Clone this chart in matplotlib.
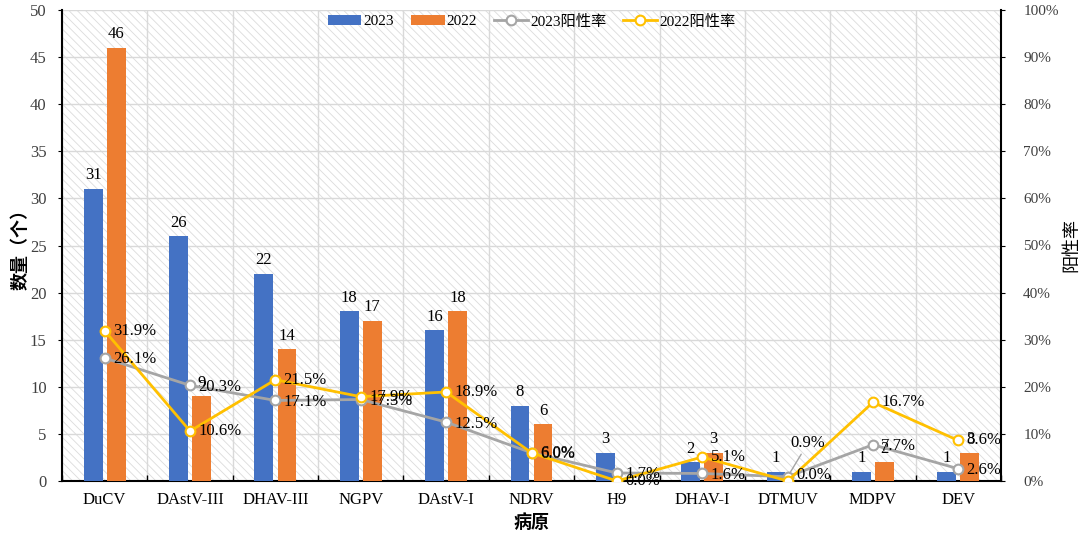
import matplotlib
matplotlib.use("Agg")
import matplotlib.pyplot as plt
import numpy as np
from matplotlib.ticker import PercentFormatter, FixedLocator
from matplotlib.patches import Rectangle

plt.rcParams['font.family'] = ['Liberation Serif', 'Noto Sans CJK SC']
plt.rcParams['hatch.linewidth'] = 0.6

categories = ['DuCV', 'DAstV-III', 'DHAV-III', 'NGPV', 'DAstV-I', 'NDRV', 'H9',
              'DHAV-I', 'DTMUV', 'MDPV', 'DEV']
count_2023 = [31, 26, 22, 18, 16, 8, 3, 2, 1, 1, 1]
count_2022 = [46, 9, 14, 17, 18, 6, 0, 3, 0, 2, 3]
rate_2023 = [26.1, 20.3, 17.1, 17.3, 12.5, 6.0, 1.7, 1.6, 0.9, 7.7, 2.6]
rate_2022 = [31.9, 10.6, 21.5, 17.9, 18.9, 6.0, 0.0, 5.1, 0.0, 16.7, 8.6]

c23 = '#4472C4'
c22 = '#ED7D31'
l23 = '#A5A5A5'
l22 = '#FFC000'
FS = 12

fig = plt.figure(figsize=(10.8, 5.37), dpi=100)
ax = fig.add_axes([62/1080, 1-481/537, (1001-62)/1080, (481-10)/537])
bg = Rectangle((0, 0), 1, 1, transform=ax.transAxes, facecolor='white',
               edgecolor='#dcdcdc', hatch='\\\\\\\\', lw=0, zorder=0)
ax.add_patch(bg)

x = np.arange(len(categories))
w = 0.22
off = 0.135
b1 = ax.bar(x - off, count_2023, w, color=c23, label='2023', zorder=3)
b2 = ax.bar(x + off, count_2022, w, color=c22, label='2022', zorder=3)

for xi, v in zip(x, count_2023):
    if v > 0:
        ax.annotate(str(v), (xi - off, v), xytext=(0, 4), textcoords='offset points',
                    ha='center', va='bottom', fontsize=FS, zorder=5)
for xi, v in zip(x, count_2022):
    if v > 0:
        ax.annotate(str(v), (xi + off, v), xytext=(0, 4), textcoords='offset points',
                    ha='center', va='bottom', fontsize=FS, zorder=5)

ax.set_xlim(-0.5, len(categories) - 0.5)
ax.set_ylim(0, 50)
ax.set_yticks(np.arange(0, 51, 5))
ax.set_xticks(x)
ax.set_xticklabels(categories, fontsize=FS)
ax.xaxis.set_minor_locator(FixedLocator(np.arange(-0.5, len(categories), 1.0)))
ax.tick_params(axis='x', which='major', length=0, pad=8)
ax.tick_params(axis='x', which='minor', length=4, direction='in', width=1)
ax.tick_params(axis='y', which='major', length=3, direction='out', labelsize=FS, pad=8)
for lab in ax.get_yticklabels():
    lab.set_color('#404040')
ax.grid(True, axis='y', which='major', color='#d9d9d9', linewidth=1, zorder=1)
ax.grid(True, axis='x', which='minor', color='#d9d9d9', linewidth=1, zorder=1)
ax.set_axisbelow(True)
ax.spines['top'].set_visible(False)
ax.spines['right'].set_visible(False)
ax.spines['left'].set_linewidth(1.5)
ax.spines['bottom'].set_linewidth(1.5)

ax.set_xlabel('病原', fontsize=13, fontweight='bold', labelpad=4)
ax.set_ylabel('数量（个）', fontsize=13, fontweight='bold')
ax.yaxis.set_label_coords(-0.035, 0.5)

ax2 = ax.twinx()
ax2.set_ylim(0, 1)
ax2.set_yticks(np.arange(0, 1.01, 0.1))
ax2.yaxis.set_major_formatter(PercentFormatter(1.0, decimals=0))
ax2.tick_params(axis='y', length=3, direction='out', labelsize=11, pad=13)
for lab in ax2.get_yticklabels():
    lab.set_color('#404040')
ax2.spines['right'].set_linewidth(1.5)
ax2.spines['top'].set_visible(False)
ax2.spines['left'].set_visible(False)
ax2.spines['bottom'].set_visible(False)

r23 = np.array(rate_2023) / 100
r22 = np.array(rate_2022) / 100
ln1, = ax2.plot(x, r23, color=l23, lw=2, marker='o', ms=7, mfc='white', mec=l23, mew=1.5,
                label='2023阳性率', zorder=4)
ln2, = ax2.plot(x, r22, color=l22, lw=2, marker='o', ms=7, mfc='white', mec=l22, mew=1.5,
                label='2022阳性率', zorder=4)

for i, (xi, v) in enumerate(zip(x, r23)):
    if categories[i] == 'DTMUV':
        ax2.annotate(f'{v*100:.1f}%', (xi, v), xytext=(2, 24), textcoords='offset points',
                     ha='left', va='center', fontsize=FS, zorder=6,
                     arrowprops=dict(arrowstyle='-', color=l23, lw=1, shrinkA=0, shrinkB=3))
    else:
        ax2.annotate(f'{v*100:.1f}%', (xi, v), xytext=(6, -1), textcoords='offset points',
                     ha='left', va='center', fontsize=FS, zorder=6)
for i, (xi, v) in enumerate(zip(x, r22)):
    dy = 0
    if categories[i] == 'DTMUV':
        dy = 4
    ax2.annotate(f'{v*100:.1f}%', (xi, v), xytext=(6, dy), textcoords='offset points',
                 ha='left', va='center', fontsize=FS, zorder=6)

ax2.set_ylabel('阳性率', fontsize=13, rotation=90)
ax2.yaxis.set_label_coords(1.066, 0.5)

handles = [b1, b2, ln1, ln2]
leg = ax2.legend(handles, [h.get_label() for h in handles], loc='upper center',
                 bbox_to_anchor=(0.5, 1.02), ncol=4, frameon=False, fontsize=11,
                 handlelength=2.2, columnspacing=1.1, handletextpad=0.15)

fig.savefig('out.png', dpi=100)
